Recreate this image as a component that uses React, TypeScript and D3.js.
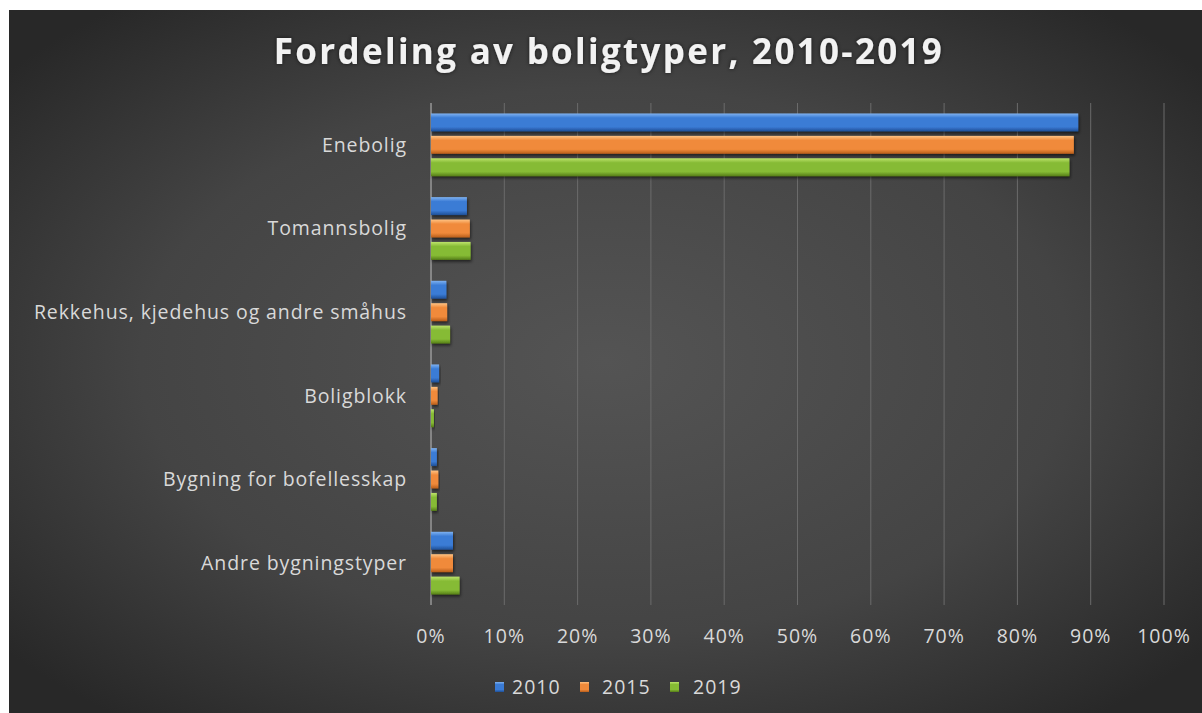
import React from "react";
import * as d3 from "d3";

const categories = [
  "Enebolig",
  "Tomannsbolig",
  "Rekkehus, kjedehus og andre småhus",
  "Boligblokk",
  "Bygning for bofellesskap",
  "Andre bygningstyper",
];
const seriesNames = ["2010", "2015", "2019"];
const values2010 = [0.883, 0.049, 0.021, 0.011, 0.008, 0.03];
const values2015 = [0.877, 0.053, 0.022, 0.009, 0.01, 0.03];
const values2019 = [0.871, 0.054, 0.026, 0.004, 0.008, 0.039];
const seriesValues = [values2010, values2015, values2019];
const colors = ["#3a7bd5", "#f08a3a", "#86bb34"];
const lightColors = ["#7fb2f0", "#ffc383", "#bde36c"];
const darkColors = ["#1f4f96", "#b85d1b", "#557d18"];
const ticks = [0, 0.1, 0.2, 0.3, 0.4, 0.5, 0.6, 0.7, 0.8, 0.9, 1.0];

const W = 1202;
const H = 713;
const font = "'Open Sans', 'Noto Sans', sans-serif";

export default function App() {
  const x = d3.scaleLinear().domain([0, 1]).range([431, 1164]);
  const y = d3.scaleBand().domain(categories).range([103, 605]).paddingInner(0.25).paddingOuter(0.125);
  const inner = d3.scaleBand().domain(seriesNames).range([0, y.bandwidth()]).paddingInner(0.2);
  const legendSwatchX = [495, 580, 670];
  const legendTextX = [512, 602, 693];

  return (
    <div style={{ position: "absolute", left: 0, top: 0 }}>
      <svg width={W} height={H} style={{ display: "block" }}>
        <defs>
          <radialGradient id="bg" cx="0.5" cy="0.5" r="0.65">
            <stop offset="0" stopColor="#545454" />
            <stop offset="0.6" stopColor="#444" />
            <stop offset="1" stopColor="#282828" />
          </radialGradient>
          {colors.map((c, i) => (
            <linearGradient key={i} id={`g${i}`} x1="0" y1="0" x2="0" y2="1">
              <stop offset="0" stopColor={lightColors[i]} />
              <stop offset="0.25" stopColor={c} />
              <stop offset="0.75" stopColor={c} />
              <stop offset="1" stopColor={darkColors[i]} />
            </linearGradient>
          ))}
          <filter id="shadow" x="-10%" y="-30%" width="130%" height="180%">
            <feDropShadow dx="1" dy="2" stdDeviation="1.5" floodColor="#000" floodOpacity="0.55" />
          </filter>
          <filter id="tshadow" x="-5%" y="-30%" width="110%" height="160%">
            <feDropShadow dx="0" dy="0" stdDeviation="2" floodColor="#000" floodOpacity="0.6" />
          </filter>
        </defs>
        <rect x={0} y={0} width={W} height={H} fill="#fff" />
        <rect x={9} y={10} width={W - 9} height={H - 10} fill="url(#bg)" />
        <text
          x={609}
          y={64}
          textAnchor="middle"
          fill="#f2f2f2"
          fontFamily={font}
          fontWeight={700}
          fontSize={35}
          letterSpacing={2.3}
          filter="url(#tshadow)"
        >
          Fordeling av boligtyper, 2010-2019
        </text>
        {ticks.map((t) => (
          <g key={t}>
            <line x1={x(t)} x2={x(t)} y1={103} y2={605} stroke={t === 0 ? "#bfbfbf" : "#6b6b6b"} strokeWidth={1} />
            <text
              x={x(t)}
              y={643}
              textAnchor="middle"
              fill="#d9d9d9"
              fontFamily={font}
              fontSize={19.5}
              letterSpacing={1}
            >
              {d3.format(".0%")(t)}
            </text>
          </g>
        ))}
        {categories.map((c) => (
          <text
            key={c}
            x={407}
            y={(y(c) as number) + y.bandwidth() / 2}
            dy="0.35em"
            textAnchor="end"
            fill="#d9d9d9"
            fontFamily={font}
            fontSize={19.5}
            letterSpacing={0.9}
          >
            {c}
          </text>
        ))}
        {seriesValues.map((vals, si) =>
          vals.map((v, ci) => (
            <rect
              key={`${si}-${ci}`}
              x={x(0)}
              y={(y(categories[ci]) as number) + (inner(seriesNames[si]) as number)}
              width={x(v) - x(0)}
              height={inner.bandwidth()}
              fill={`url(#g${si})`}
              filter="url(#shadow)"
            />
          ))
        )}
        {seriesNames.map((s, i) => (
          <g key={s}>
            <rect x={legendSwatchX[i]} y={682} width={9} height={10} fill={`url(#g${i})`} />
            <text x={legendTextX[i]} y={694} fill="#d9d9d9" fontFamily={font} fontSize={19.5} letterSpacing={1}>
              {s}
            </text>
          </g>
        ))}
      </svg>
    </div>
  );
}
